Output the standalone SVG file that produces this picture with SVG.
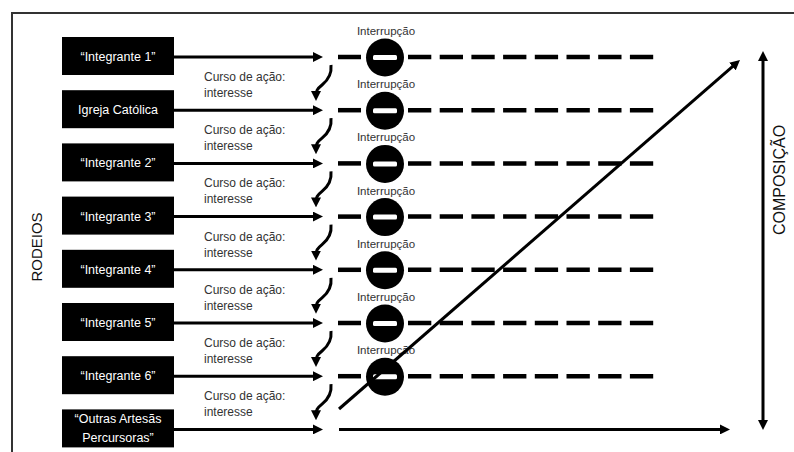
<svg xmlns="http://www.w3.org/2000/svg" width="794" height="452" viewBox="0 0 794 452">
  <defs>
    <style>
      .frame { fill: none; stroke: #333; stroke-width: 2; }
      .box { fill: #000; }
      .boxtxt { fill: #fff; font-family: "Liberation Sans", Arial, sans-serif; font-size: 12.5px; text-anchor: middle; }
      .lbl { fill: #333; font-family: "Liberation Sans", Arial, sans-serif; font-size: 12px; }
      .intr { fill: #333; font-family: "Liberation Sans", Arial, sans-serif; font-size: 11.5px; text-anchor: middle; }
      .axis { fill: #111; font-family: "Liberation Sans", Arial, sans-serif; }
      .arrow { fill: none; stroke: #000; stroke-width: 3; marker-end: url(#ah); }
      .curl { fill: none; stroke: #000; stroke-width: 3; marker-end: url(#ah); }
      .dash { fill: none; stroke: #000; stroke-width: 4.5; }
      .dashed { fill: none; stroke: #000; stroke-width: 4.5; stroke-dasharray: 23.3 8.4; }
      .stop { fill: #000; }
      .bar { fill: #fff; }
    </style>
    <marker id="ah" viewBox="0 0 10 10" refX="5" refY="5" markerWidth="10" markerHeight="10" markerUnits="userSpaceOnUse" orient="auto">
      <path d="M0,0 L10,5 L0,10 z" fill="#000"/>
    </marker>
    <marker id="ah2" viewBox="0 0 10 10" refX="5" refY="5" markerWidth="10" markerHeight="10" markerUnits="userSpaceOnUse" orient="auto-start-reverse">
      <path d="M0,0 L10,5 L0,10 z" fill="#000"/>
    </marker>
    <path id="curlShape" d="M331,8 C332,18 327,24 322,28 S316,34 316,39"/>
  </defs>

  <rect width="794" height="452" fill="#fff"/>

  <!-- outer frame: left and top edges -->
  <path class="frame" d="M12,452 L12,13 L794,13"/>

  <!-- axis titles -->
  <text class="axis" font-size="15" transform="translate(42,247) rotate(-90)" text-anchor="middle">RODEIOS</text>
  <text class="axis" font-size="16" transform="translate(785,180) rotate(-90)" text-anchor="middle">COMPOSIÇÃO</text>

  <!-- actor nodes -->
  <g id="integrante1"><rect class="box" x="62" y="37" width="112" height="38"/><text class="boxtxt" x="118" y="61">“Integrante 1”</text></g>
  <g id="igreja"><rect class="box" x="62" y="90.2" width="112" height="38"/><text class="boxtxt" x="118" y="114.2">Igreja Católica</text></g>
  <g id="integrante2"><rect class="box" x="62" y="143.4" width="112" height="38"/><text class="boxtxt" x="118" y="167.4">“Integrante 2”</text></g>
  <g id="integrante3"><rect class="box" x="62" y="196.6" width="112" height="38"/><text class="boxtxt" x="118" y="220.6">“Integrante 3”</text></g>
  <g id="integrante4"><rect class="box" x="62" y="249.8" width="112" height="38"/><text class="boxtxt" x="118" y="273.8">“Integrante 4”</text></g>
  <g id="integrante5"><rect class="box" x="62" y="303" width="112" height="38"/><text class="boxtxt" x="118" y="327">“Integrante 5”</text></g>
  <g id="integrante6"><rect class="box" x="62" y="356.2" width="112" height="38"/><text class="boxtxt" x="118" y="380.2">“Integrante 6”</text></g>
  <g id="outras"><rect class="box" x="62" y="409.4" width="112" height="38"/><text class="boxtxt" x="118" y="423">“Outras Artesãs</text><text class="boxtxt" x="118" y="442">Percursoras”</text></g>

  <!-- interruption nodes -->
  <g id="interrupcao1"><text class="intr" x="386" y="35">Interrupção</text><circle class="stop" cx="385" cy="57.5" r="19"/><rect class="bar" x="373" y="55" width="24" height="5" rx="1.5"/></g>
  <g id="interrupcao2"><text class="intr" x="386" y="88.2">Interrupção</text><circle class="stop" cx="385" cy="110.7" r="19"/><rect class="bar" x="373" y="108.2" width="24" height="5" rx="1.5"/></g>
  <g id="interrupcao3"><text class="intr" x="386" y="141.4">Interrupção</text><circle class="stop" cx="385" cy="163.9" r="19"/><rect class="bar" x="373" y="161.4" width="24" height="5" rx="1.5"/></g>
  <g id="interrupcao4"><text class="intr" x="386" y="194.6">Interrupção</text><circle class="stop" cx="385" cy="217.1" r="19"/><rect class="bar" x="373" y="214.6" width="24" height="5" rx="1.5"/></g>
  <g id="interrupcao5"><text class="intr" x="386" y="247.8">Interrupção</text><circle class="stop" cx="385" cy="270.3" r="19"/><rect class="bar" x="373" y="267.8" width="24" height="5" rx="1.5"/></g>
  <g id="interrupcao6"><text class="intr" x="386" y="301">Interrupção</text><circle class="stop" cx="385" cy="323.5" r="19"/><rect class="bar" x="373" y="321" width="24" height="5" rx="1.5"/></g>
  <g id="interrupcao7"><text class="intr" x="386" y="354.2">Interrupção</text><circle class="stop" cx="385" cy="376.7" r="19"/><rect class="bar" x="373" y="374.2" width="24" height="5" rx="1.5"/></g>

  <!-- course-of-action labels -->
  <g id="cursos">
    <text class="lbl" x="204" y="81">Curso de ação:</text><text class="lbl" x="204" y="97">interesse</text>
    <text class="lbl" x="204" y="134.2">Curso de ação:</text><text class="lbl" x="204" y="150.2">interesse</text>
    <text class="lbl" x="204" y="187.4">Curso de ação:</text><text class="lbl" x="204" y="203.4">interesse</text>
    <text class="lbl" x="204" y="240.6">Curso de ação:</text><text class="lbl" x="204" y="256.6">interesse</text>
    <text class="lbl" x="204" y="293.8">Curso de ação:</text><text class="lbl" x="204" y="309.8">interesse</text>
    <text class="lbl" x="204" y="347">Curso de ação:</text><text class="lbl" x="204" y="363">interesse</text>
    <text class="lbl" x="204" y="400.2">Curso de ação:</text><text class="lbl" x="204" y="416.2">interesse</text>
  </g>

  <!-- connectors -->
  <g id="connectors">
    <!-- actor arrows -->
    <line class="arrow" x1="174" y1="57" x2="318" y2="57"/>
    <line class="arrow" x1="174" y1="110.2" x2="318" y2="110.2"/>
    <line class="arrow" x1="174" y1="163.4" x2="318" y2="163.4"/>
    <line class="arrow" x1="174" y1="216.6" x2="318" y2="216.6"/>
    <line class="arrow" x1="174" y1="269.8" x2="318" y2="269.8"/>
    <line class="arrow" x1="174" y1="323" x2="318" y2="323"/>
    <line class="arrow" x1="174" y1="376.2" x2="318" y2="376.2"/>
    <line class="arrow" x1="174" y1="429.4" x2="318" y2="429.4"/>

    <!-- course-of-action curls -->
    <use href="#curlShape" class="curl" transform="translate(0,57)"/>
    <use href="#curlShape" class="curl" transform="translate(0,110.2)"/>
    <use href="#curlShape" class="curl" transform="translate(0,163.4)"/>
    <use href="#curlShape" class="curl" transform="translate(0,216.6)"/>
    <use href="#curlShape" class="curl" transform="translate(0,269.8)"/>
    <use href="#curlShape" class="curl" transform="translate(0,323)"/>
    <use href="#curlShape" class="curl" transform="translate(0,376.2)"/>

    <!-- interrupted lines -->
    <line class="dash" x1="338" y1="57" x2="361" y2="57"/><line class="dashed" x1="408" y1="57" x2="654" y2="57"/>
    <line class="dash" x1="338" y1="110.2" x2="361" y2="110.2"/><line class="dashed" x1="408" y1="110.2" x2="654" y2="110.2"/>
    <line class="dash" x1="338" y1="163.4" x2="361" y2="163.4"/><line class="dashed" x1="408" y1="163.4" x2="654" y2="163.4"/>
    <line class="dash" x1="338" y1="216.6" x2="361" y2="216.6"/><line class="dashed" x1="408" y1="216.6" x2="654" y2="216.6"/>
    <line class="dash" x1="338" y1="269.8" x2="361" y2="269.8"/><line class="dashed" x1="408" y1="269.8" x2="654" y2="269.8"/>
    <line class="dash" x1="338" y1="323" x2="361" y2="323"/><line class="dashed" x1="408" y1="323" x2="654" y2="323"/>
    <line class="dash" x1="338" y1="376.2" x2="361" y2="376.2"/><line class="dashed" x1="408" y1="376.2" x2="654" y2="376.2"/>

    <!-- continuing line -->
    <line class="arrow" x1="339" y1="429.4" x2="725" y2="429.4"/>

    <!-- composition growth -->
    <line class="arrow" x1="339" y1="409" x2="736.2" y2="63.3"/>

    <!-- composition axis -->
    <line x1="763" y1="56" x2="763" y2="425" stroke="#000" stroke-width="3" marker-start="url(#ah2)" marker-end="url(#ah2)"/>
  </g>
</svg>
